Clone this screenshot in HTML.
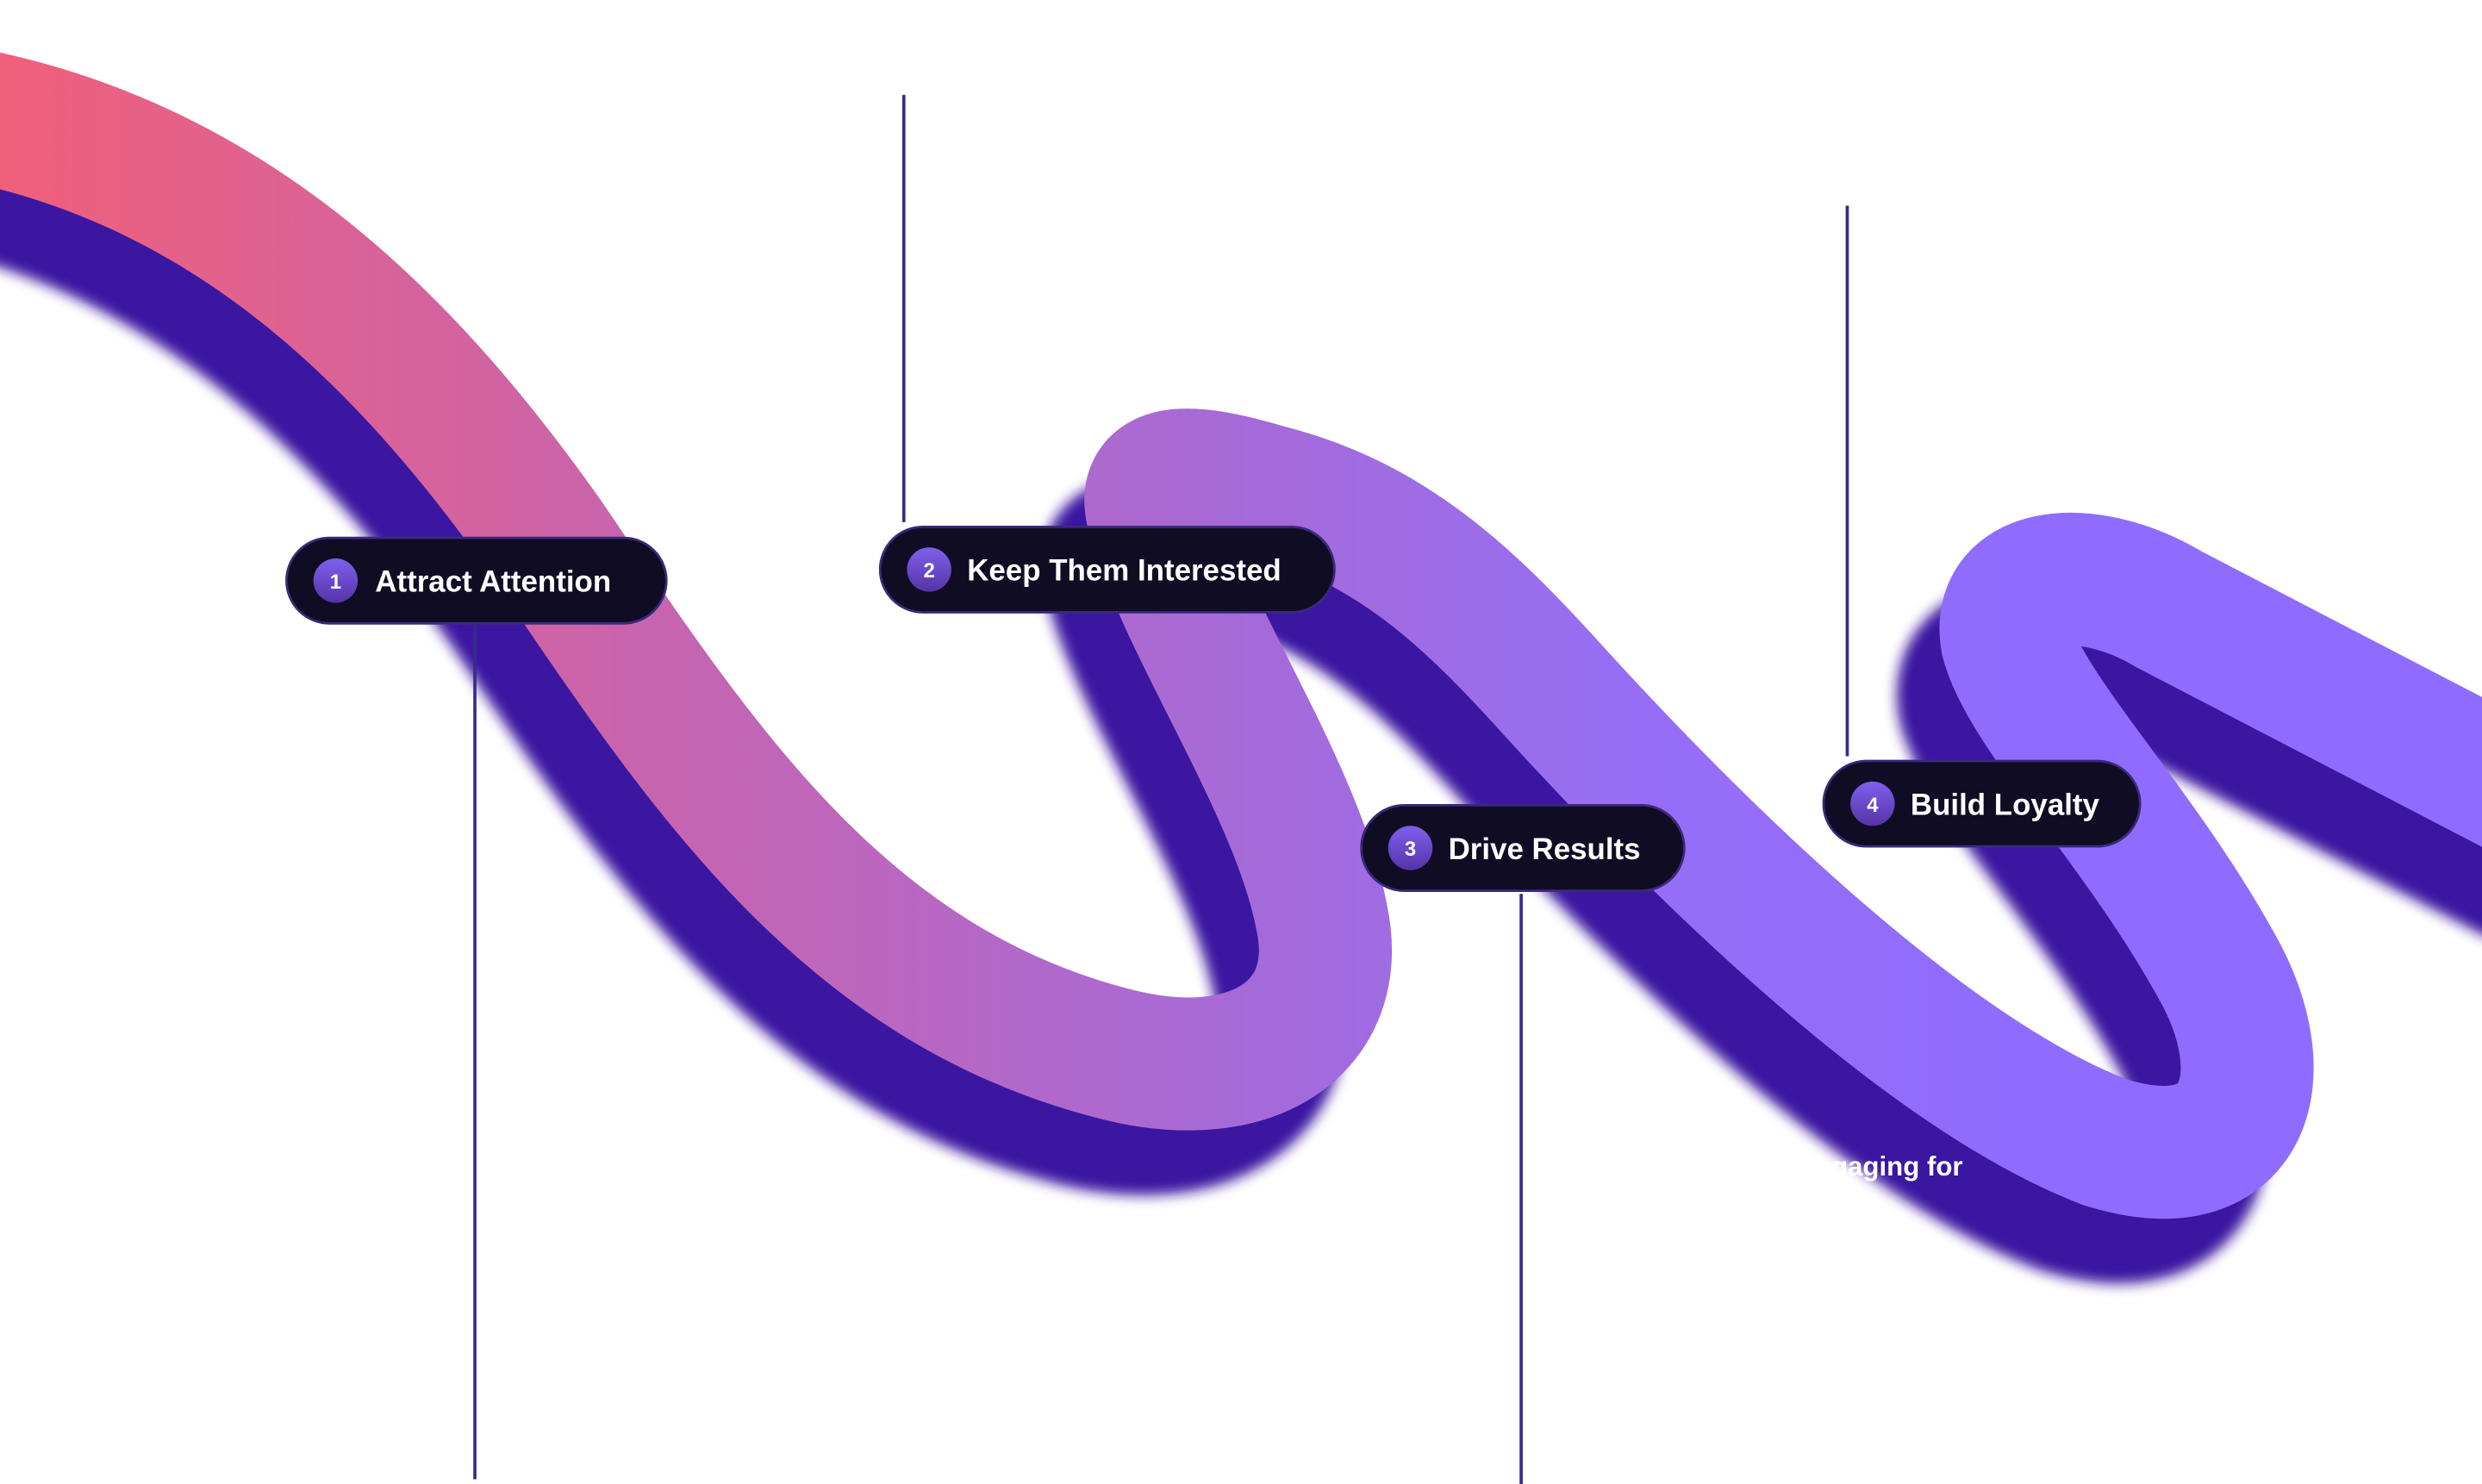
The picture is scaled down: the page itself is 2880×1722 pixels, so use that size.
<!DOCTYPE html>
<html><head><meta charset="utf-8"><style>
html,body{margin:0;padding:0;background:#fff;width:2880px;height:1722px;overflow:hidden}
svg{display:block}
text{font-family:"Liberation Sans",sans-serif;font-weight:bold;fill:#fff}
</style></head><body>
<svg width="2880" height="1722" viewBox="0 0 1568 938" preserveAspectRatio="none">
<defs>
<linearGradient id="rg" gradientUnits="userSpaceOnUse" x1="0" y1="0" x2="1300" y2="0">
<stop offset="0" stop-color="#f0607a"/>
<stop offset="0.3" stop-color="#c964ac"/>
<stop offset="0.6" stop-color="#a66ad8"/>
<stop offset="0.8" stop-color="#956ef5"/>
<stop offset="1" stop-color="#8f6cff"/>
</linearGradient>
<linearGradient id="cg" x1="0" y1="0" x2="0" y2="1">
<stop offset="0" stop-color="#7f60ec"/><stop offset="1" stop-color="#5534a8"/>
</linearGradient>
<filter id="bl" x="-10%" y="-10%" width="120%" height="120%"><feGaussianBlur stdDeviation="4"/></filter>
<path id="rib" d="M -20 72 C 150 105, 260 220, 345 340 C 440 480, 530 620, 700 665 C 790 690, 850 650, 835 580 C 820 500, 750 400, 730 330 C 715 290, 760 298, 800 310 C 880 330, 930 380, 980 435 C 1080 545, 1220 680, 1330 722 C 1420 750, 1440 680, 1400 610 C 1350 520, 1280 450, 1268 405 C 1260 360, 1320 355, 1370 385 L 1620 515"/>
</defs>
<use href="#rib" transform="translate(-28,42)" fill="none" stroke="#3b12a0" stroke-width="82" filter="url(#bl)"/>
<use href="#rib" fill="none" stroke="url(#rg)" stroke-width="84"/>
<text x="1240" y="743" text-anchor="end" font-size="17">Engaging for</text>
<g stroke="#3a2a8a" stroke-width="2">
<line x1="300" y1="395" x2="300" y2="935"/>
<line x1="571" y1="60" x2="571" y2="330"/>
<line x1="961" y1="565" x2="961" y2="938"/>
<line x1="1167" y1="130" x2="1167" y2="478"/>
</g>
<g>
<rect x="181" y="340" width="240" height="54" rx="27" fill="#100c24" stroke="#3a2a7a" stroke-width="1.5"/>
<circle cx="212" cy="367" r="14" fill="url(#cg)"/>
<text x="212" y="372" text-anchor="middle" font-size="13">1</text>
<text x="237" y="374" font-size="19">Attract Attention</text>

<rect x="556" y="333" width="287" height="54" rx="27" fill="#100c24" stroke="#3a2a7a" stroke-width="1.5"/>
<circle cx="587" cy="360" r="14" fill="url(#cg)"/>
<text x="587" y="365" text-anchor="middle" font-size="13">2</text>
<text x="611" y="367" font-size="19">Keep Them Interested</text>

<rect x="860" y="509" width="204" height="54" rx="27" fill="#100c24" stroke="#3a2a7a" stroke-width="1.5"/>
<circle cx="891" cy="536" r="14" fill="url(#cg)"/>
<text x="891" y="541" text-anchor="middle" font-size="13">3</text>
<text x="915" y="543" font-size="19">Drive Results</text>

<rect x="1152" y="481" width="200" height="54" rx="27" fill="#100c24" stroke="#3a2a7a" stroke-width="1.5"/>
<circle cx="1183" cy="508" r="14" fill="url(#cg)"/>
<text x="1183" y="513" text-anchor="middle" font-size="13">4</text>
<text x="1207" y="515" font-size="19">Build Loyalty</text>
</g>
</svg>
</body></html>
